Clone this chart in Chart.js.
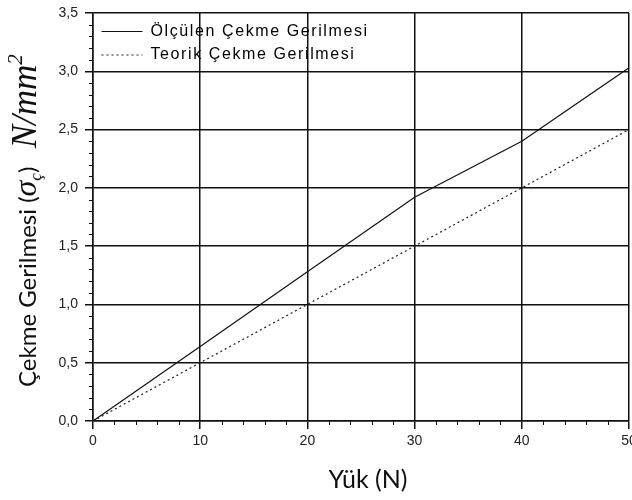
<!DOCTYPE html>
<html>
<head>
<meta charset="utf-8">
<script src="https://cdn.jsdelivr.net/npm/chart.js@4.4.1/dist/chart.umd.min.js"></script>
<style>
  html, body { margin: 0; padding: 0; background: #fff; }
  #wrap { width: 632px; height: 500px; }
</style>
</head>
<body>
<div id="wrap"><canvas id="chart" width="632" height="500"></canvas></div>
<script>
// veriler
const loads = [0, 10, 20, 30, 40, 50];
const measured = [0, 0.64, 1.28, 1.92, 2.4, 3.03];
const theoretical = [0, 0.5, 1.0, 1.5, 2.0, 2.5];
const seriesNames = ['Ölçülen Çekme Gerilmesi', 'Teorik Çekme Gerilmesi'];
const xTitle = 'Yük (N)';
const yTicks = [0, 0.5, 1.0, 1.5, 2.0, 2.5, 3.0, 3.5];
const xTicks = [0, 10, 20, 30, 40, 50];
const xMinorStep = 2;
const yMinorStep = 0.1;

const ink = '#111';

// ara çentikler
const minorTicks = {
    id: 'minorTicks',
    afterDraw(chart) {
        const { ctx, scales: { x, y } } = chart;
        ctx.save();
        ctx.strokeStyle = ink;
        ctx.lineWidth = 1;
        ctx.beginPath();
        const xn = Math.round((xTicks[xTicks.length - 1] - xTicks[0]) / xMinorStep);
        for (let i = 0; i <= xn; i++) {
            const v = xTicks[0] + i * xMinorStep;
            if (xTicks.includes(v)) continue;
            const px = Math.round(x.getPixelForValue(v)) + 0.5;
            ctx.moveTo(px, y.bottom);
            ctx.lineTo(px, y.bottom + 4);
        }
        const yn = Math.round((yTicks[yTicks.length - 1] - yTicks[0]) / yMinorStep);
        for (let i = 0; i <= yn; i++) {
            if (i % 5 === 0) continue;
            const py = Math.round(y.getPixelForValue(yTicks[0] + i * yMinorStep)) + 0.5;
            ctx.moveTo(x.left - 4, py);
            ctx.lineTo(x.left, py);
        }
        ctx.stroke();
        ctx.restore();
    }
};

// eksen başlıkları: karışık yazı tipleri
const axisTitles = {
    id: 'axisTitles',
    afterDraw(chart) {
        const { ctx, chartArea } = chart;
        const parts = [
            { t: 'Çekme Gerilmesi', f: '24px Lato', dy: 0 },
            { t: ' (', f: '24px Lato', dy: 0 },
            { t: 'σ', f: 'italic 32px "Liberation Serif"', dy: 0 },
            { t: 'ç', f: 'italic 17px "Liberation Serif"', dy: 5 },
            { t: ')', f: '24px Lato', dy: 0 },
            { t: '   ', f: '24px Lato', dy: 0 },
            { t: 'N/mm', f: 'italic 35px "Liberation Serif"', dy: 0 },
            { t: '2', f: 'italic 21px "Liberation Serif"', dy: -14 }
        ];
        ctx.save();
        ctx.translate(36, 387);
        ctx.rotate(-Math.PI / 2);
        ctx.fillStyle = ink;
        ctx.textBaseline = 'alphabetic';
        let cx = 0;
        parts.forEach(p => {
            ctx.font = p.f;
            ctx.fillText(p.t, cx, p.dy);
            cx += ctx.measureText(p.t).width;
        });
        ctx.restore();

        ctx.save();
        ctx.fillStyle = ink;
        ctx.font = '25px Lato';
        ctx.textAlign = 'center';
        ctx.textBaseline = 'alphabetic';
        ctx.fillText(xTitle, (chartArea.left + chartArea.right) / 2 + 7, 488);
        ctx.restore();
    }
};

// lejant: grafik alanının içinde, geniş harf aralığı
const legendInside = {
    id: 'legendInside',
    beforeDraw(chart) {
        const lg = chart.legend;
        if (!lg || lg._inside) return;
        const orig = lg.draw;
        lg.draw = function (area) {
            const ca = this.chart.chartArea;
            this.ctx.save();
            this.ctx.translate(ca.left - this.left + 1, ca.top - this.top + 3);
            this.ctx.letterSpacing = '1.6px';
            orig.call(this, area);
            this.ctx.restore();
        };
        lg._inside = true;
    }
};

const tickFont = { family: '"Liberation Sans", Arial, sans-serif', size: 14 };

new Chart(document.getElementById('chart'), {
    type: 'line',
    data: {
        datasets: [
            {
                label: seriesNames[0],
                data: loads.map((v, i) => ({ x: v, y: measured[i] })),
                borderColor: ink,
                borderWidth: 1.2,
                pointRadius: 0,
                tension: 0
            },
            {
                label: seriesNames[1],
                data: loads.map((v, i) => ({ x: v, y: theoretical[i] })),
                borderColor: '#222',
                borderWidth: 1.2,
                borderDash: [2, 3],
                pointRadius: 0,
                tension: 0
            }
        ]
    },
    options: {
        responsive: false,
        animation: false,
        layout: { padding: { top: 13, right: 3, left: 0, bottom: 0 } },
        plugins: {
            tooltip: { enabled: false },
            legend: {
                position: 'chartArea',
                align: 'start',
                labels: {
                    usePointStyle: true,
                    pointStyle: 'line',
                    pointStyleWidth: 41,
                    padding: 7.5,
                    color: '#000',
                    font: { family: '"Liberation Sans", Arial, sans-serif', size: 16 },
                    generateLabels: chart => Chart.defaults.plugins.legend.labels.generateLabels(chart)
                        .map((it, i) => ({
                            ...it,
                            strokeStyle: chart.data.datasets[i].borderColor,
                            lineWidth: chart.data.datasets[i].borderWidth,
                            lineDash: chart.data.datasets[i].borderDash || []
                        }))
                }
            }
        },
        scales: {
            x: {
                type: 'linear',
                min: xTicks[0],
                max: xTicks[xTicks.length - 1],
                afterBuildTicks: s => { s.ticks = xTicks.map(v => ({ value: v })); },
                ticks: { color: '#222', font: tickFont, padding: 4, autoSkip: false, maxRotation: 0 },
                grid: { color: ink, lineWidth: 1.5, tickLength: 8, tickColor: ink, tickWidth: 1.5 },
                border: { display: true, color: ink, width: 1.5 },
                afterFit: s => { s.height = 79; s.paddingLeft = 0; s.paddingRight = 0; }
            },
            y: {
                min: yTicks[0],
                max: yTicks[yTicks.length - 1],
                afterBuildTicks: s => { s.ticks = yTicks.map(v => ({ value: v })); },
                ticks: {
                    color: '#222',
                    font: tickFont,
                    padding: 7,
                    autoSkip: false,
                    callback: v => v.toFixed(1).replace('.', ',')
                },
                grid: { color: ink, lineWidth: 1.5, tickLength: 8, tickColor: ink, tickWidth: 1.5 },
                border: { display: true, color: ink, width: 1.5 },
                afterFit: s => { s.width = 93; s.paddingTop = 0; s.paddingBottom = 0; }
            }
        }
    },
    plugins: [minorTicks, axisTitles, legendInside]
});
</script>
</body>
</html>
